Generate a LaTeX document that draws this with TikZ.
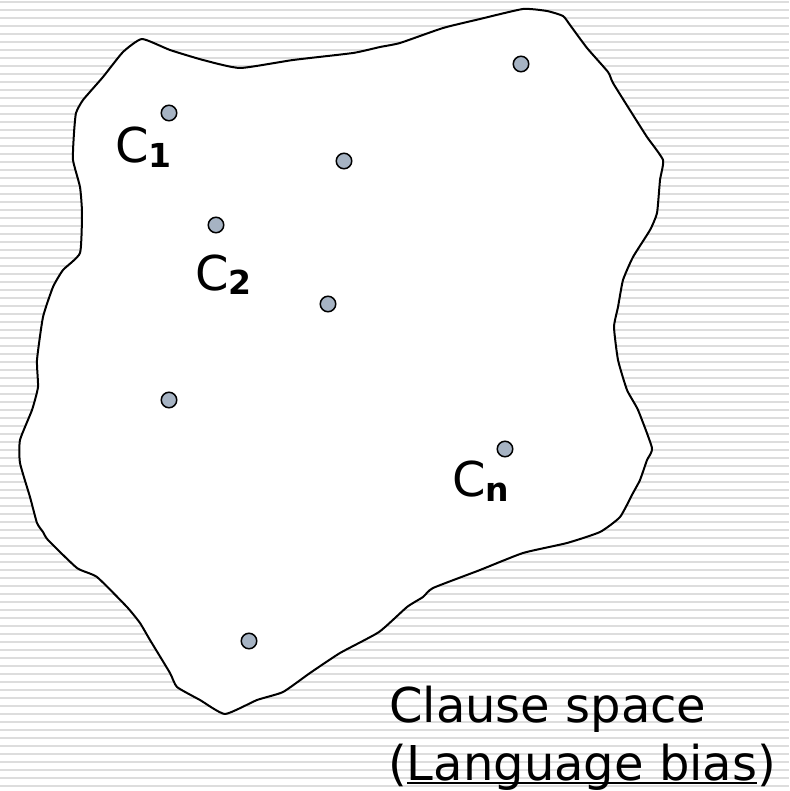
\documentclass[tikz,border=0pt]{standalone}
\usepackage{fontspec}
\setmainfont{DejaVu Sans}
\definecolor{dotfill}{RGB}{166,179,195}
\definecolor{stripegray}{RGB}{221,221,221}
\newcommand{\lowul}[1]{\setbox0\hbox{#1}\rlap{\rule[-3.5pt]{\wd0}{2pt}}\box0}
\newcommand{\subtxt}[1]{\raisebox{-5pt}{\fontsize{33}{33}\selectfont\bfseries #1}}
\begin{document}
\begin{tikzpicture}[x=1pt,y=-1pt,
  dot/.style={circle,draw=black,line width=1.5pt,fill=dotfill,minimum size=15.5pt,inner sep=0pt},
  lbl/.style={anchor=base west,inner sep=0pt,font=\fontsize{48}{59}\selectfont},
  stripe/.style={draw=stripegray,line width=2pt},
  blob/.style={draw=black,fill=white,line width=2pt,line join=round}]
\useasboundingbox (0,0) rectangle (789,791);
\fill[white] (0,0) rectangle (789,791);
\foreach \k in {0,...,98} \draw[stripe] (0,{1.7+8*\k}) -- (789,{1.7+8*\k});
\draw[blob] plot[smooth cycle, tension=0.3] coordinates {
(142,39) (170,50) (203,60) (240,68) (293,60) (353,53) (380,47) (400,43)
(443,28) (480,19) (523,9) (547,11) (563,16) (570,25) (587,48) (608,72)
(613,83) (633,115) (647,137) (663,160) (660,180) (657,213) (650,230)
(633,257) (623,280) (618,307) (614,327) (618,360) (627,390) (638,410)
(652,448) (647,460) (640,480) (633,493) (620,517) (600,532) (567,543)
(523,553) (480,570) (433,588) (423,597) (407,607) (379,632) (340,653)
(310,673) (283,692) (257,700) (225,714) (200,700) (177,687) (170,673)
(150,640) (140,623) (127,607) (97,577) (77,568) (48,540) (43,532)
(37,523) (30,497) (20,463) (20,440) (32,410) (38,387) (37,360) (43,317)
(53,287) (63,270) (80,253) (82,213) (80,187) (73,160) (74,133) (76,113)
(83,100) (103,77) (123,52)};
\node[dot] (d1) at (169,113) {};
\node[dot] (d2) at (344,161) {};
\node[dot] (d3) at (521,64) {};
\node[dot] (d4) at (216,225) {};
\node[dot] (d5) at (328,304) {};
\node[dot] (d6) at (169,400) {};
\node[dot] (d7) at (505,449) {};
\node[dot] (d8) at (249,641) {};
\node[lbl] (c1) at (115,163) {C\subtxt{1}};
\node[lbl] (c2) at (195,290) {C\subtxt{2}};
\node[lbl] (cn) at (452,496) {C\subtxt{n}};
\node[lbl] (cs1) at (389,722) {Clause space};
\node[lbl] (cs2) at (388,780) {(\lowul{Language bias})};
\end{tikzpicture}
\end{document}
